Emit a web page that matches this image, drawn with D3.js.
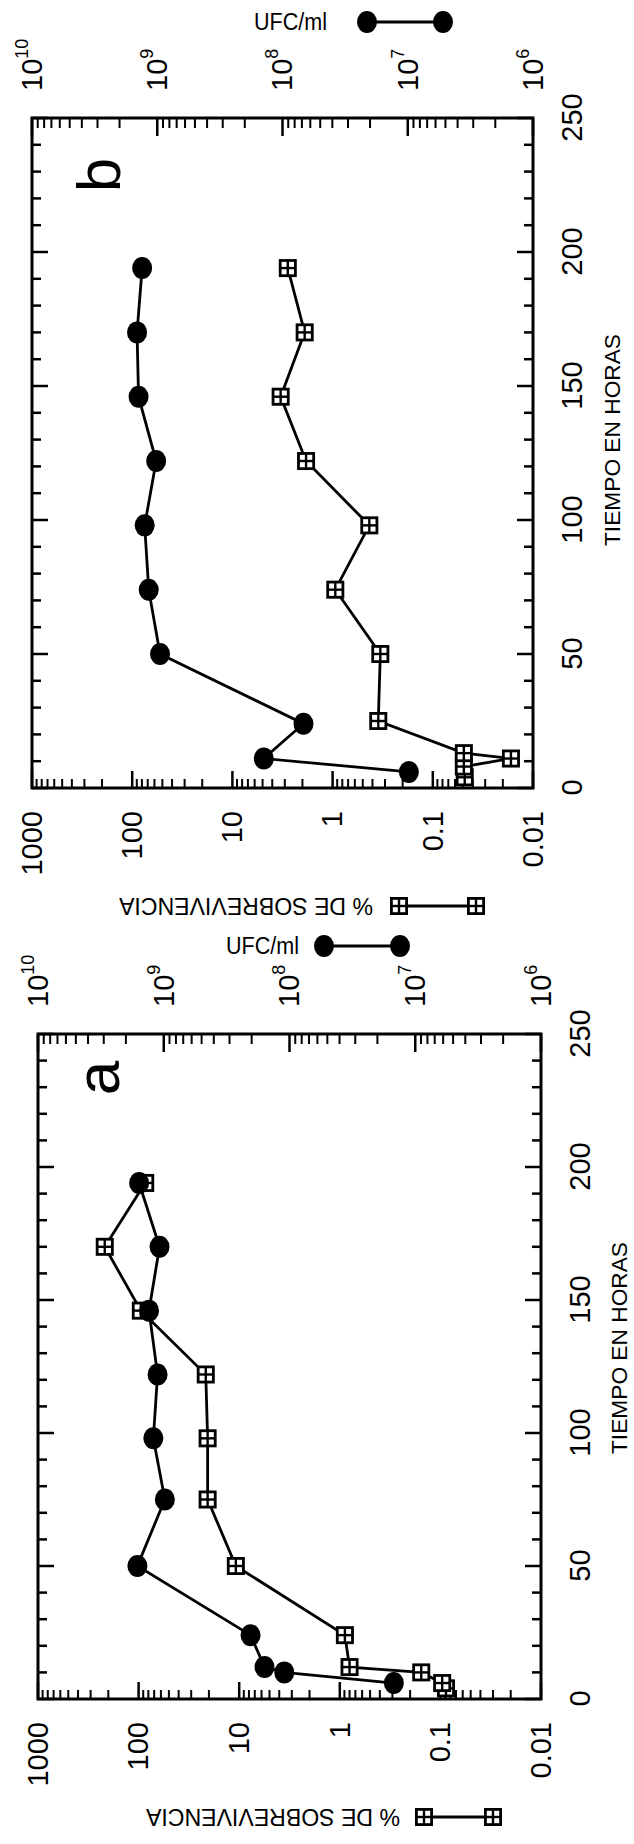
<!DOCTYPE html>
<html><head><meta charset="utf-8">
<script src="https://cdn.jsdelivr.net/npm/d3@7"></script>
<style>
body{margin:0;background:#fff}
svg{display:block}
text{font-family:"Liberation Sans",Arial,Helvetica,sans-serif;fill:#000}
</style>
</head><body>
<svg id="c" width="634" height="1844"></svg>
<script>
// ---- data ----
const timeTicks = [0, 50, 100, 150, 200, 250];
const pctTicks = [1000, 100, 10, 1, 0.1, 0.01];
const pctTickLabels = ["1000", "100", "10", "1", "0.1", "0.01"];
const ufcExponents = [10, 9, 8, 7, 6];

// panel b
const bTimeUFC = [6, 11, 24, 50, 74, 98, 122, 146, 170, 194];
const bUFC = [9.8e6, 1.41e8, 6.8e7, 9.5e8, 1.17e9, 1.26e9, 1.02e9, 1.41e9, 1.45e9, 1.32e9];
const bTimePct = [4, 8, 11, 13, 25, 50, 74, 98, 122, 146, 170, 194];
const bPct = [0.048, 0.049, 0.0166, 0.049, 0.35, 0.334, 0.94, 0.43, 1.84, 3.3, 1.9, 2.8];

// panel a
const aTimeUFC = [6, 10, 12, 24, 50, 75, 98, 122, 146, 170, 194];
const aUFC = [1.48e7, 1.1e8, 1.58e8, 2.04e8, 1.62e9, 9.8e8, 1.21e9, 1.12e9, 1.31e9, 1.08e9, 1.57e9];
const aTimePct = [4, 6, 10, 12, 24, 50, 75, 98, 122, 146, 170, 194];
const aPct = [0.088, 0.096, 0.155, 0.80, 0.89, 10.8, 20.6, 20.6, 21.5, 95, 217, 86];

const titleX = "TIEMPO EN HORAS";
const titlePct = "% DE SOBREVIVENCIA";
const titleUFC = "UFC/ml";

// ---- layout ----
const svg = d3.select("#c");
const panels = [
  {letter: "b", X0: 32, X1: 533, Y0: 118, Y1: 788,
   tU: bTimeUFC, vU: bUFC, tP: bTimePct, vP: bPct,
   letterBase: 120, letterY: 175, titleBase: 620, titleMid: 440,
   ufcLeg: {y: 22, textR: 327, c1: 367, c2: 443},
   pctLeg: {y: 906, textR: 373, s1: 399, s2: 476}},
  {letter: "a", X0: 38, X1: 541, Y0: 1034, Y1: 1699,
   tU: aTimeUFC, vU: aUFC, tP: aTimePct, vP: aPct,
   letterBase: 119, letterY: 1078, titleBase: 627, titleMid: 1348,
   ufcLeg: {y: 946, textR: 299, c1: 324, c2: 400},
   pctLeg: {y: 1817, textR: 400, s1: 424, s2: 493}}
];

function squareMarker(sel, cx, cy) {
  const s = 18, b = 2.8, w = 5, gap = 2.4;
  const g = sel.append("g").attr("transform", `translate(${cx - s/2},${cy - s/2})`);
  g.append("rect").attr("width", s).attr("height", s).attr("fill", "#000");
  [[b, b], [b + w + gap, b], [b, b + w + gap], [b + w + gap, b + w + gap]].forEach(([x, y]) =>
    g.append("rect").attr("x", x).attr("y", y).attr("width", w).attr("height", w).attr("fill", "#fff"));
}

panels.forEach(p => {
  const W = p.Y1 - p.Y0, H = p.X1 - p.X0;
  const g = svg.append("g").attr("transform", `translate(${p.X0},${p.Y1}) rotate(-90)`);
  const x = d3.scaleLinear().domain([0, 250]).range([0, W]);
  const yP = d3.scaleLog().domain([1000, 0.01]).range([0, H]);
  const yU = d3.scaleLog().domain([1e10, 1e6]).range([0, H]);

  // time ticks (both long edges, inward)
  d3.range(0, 251, 10).forEach(t => {
    const len = t % 50 === 0 ? 16 : 9;
    g.append("line").attr("x1", x(t)).attr("x2", x(t)).attr("y1", 0).attr("y2", len)
      .attr("stroke", "#000").attr("stroke-width", 2.5);
    g.append("line").attr("x1", x(t)).attr("x2", x(t)).attr("y1", H).attr("y2", H - len)
      .attr("stroke", "#000").attr("stroke-width", 2.5);
  });
  // % log ticks (page bottom edge)
  const pctMinor = [];
  for (let e = -2; e < 3; e++) for (let k = 2; k < 10; k++) pctMinor.push(k * Math.pow(10, e));
  pctMinor.forEach(v => g.append("line").attr("x1", 0).attr("x2", 9).attr("y1", yP(v)).attr("y2", yP(v))
    .attr("stroke", "#000").attr("stroke-width", 2));
  pctTicks.forEach(v => g.append("line").attr("x1", 0).attr("x2", 17).attr("y1", yP(v)).attr("y2", yP(v))
    .attr("stroke", "#000").attr("stroke-width", 2.5));
  // UFC log ticks (page top edge)
  const ufcMinor = [];
  for (let e = 6; e < 10; e++) for (let k = 2; k < 10; k++) ufcMinor.push(k * Math.pow(10, e));
  ufcMinor.forEach(v => g.append("line").attr("x1", W).attr("x2", W - 10).attr("y1", yU(v)).attr("y2", yU(v))
    .attr("stroke", "#000").attr("stroke-width", 2));
  ufcExponents.forEach(e => g.append("line").attr("x1", W).attr("x2", W - 18).attr("y1", yU(Math.pow(10, e))).attr("y2", yU(Math.pow(10, e)))
    .attr("stroke", "#000").attr("stroke-width", 2.5));

  // frame
  g.append("rect").attr("x", 0).attr("y", 0).attr("width", W).attr("height", H)
    .attr("fill", "none").attr("stroke", "#000").attr("stroke-width", 3);

  // axes labels
  const ax = g.append("g").attr("transform", `translate(0,${H})`)
    .call(d3.axisBottom(x).tickValues(timeTicks).tickSize(0).tickPadding(28));
  ax.select(".domain").remove();
  ax.attr("font-size", 29);

  const ap = g.append("g")
    .call(d3.axisLeft(yP).tickValues(pctTicks).tickFormat((d, i) => pctTickLabels[i]).tickSize(0).tickPadding(23));
  ap.select(".domain").remove();
  ap.attr("font-size", 29);

  const au = g.append("g").attr("transform", `translate(${W},0)`)
    .call(d3.axisRight(yU).tickValues(ufcExponents.map(e => Math.pow(10, e))).tickSize(0).tickPadding(27));
  au.select(".domain").remove();
  au.attr("font-size", 29);
  au.selectAll(".tick text").each(function(d) {
    const t = d3.select(this);
    const e = Math.round(Math.log10(d));
    t.text("10");
    t.append("tspan").attr("dy", -14).attr("font-size", 18).text(e);
  });

  // series lines
  const ptsP = p.tP.map((t, i) => [t, p.vP[i]]);
  const ptsU = p.tU.map((t, i) => [t, p.vU[i]]);
  g.append("path").datum(ptsP).attr("fill", "none").attr("stroke", "#000").attr("stroke-width", 2.8)
    .attr("d", d3.line().x(d => x(d[0])).y(d => yP(d[1])));
  g.append("path").datum(ptsU).attr("fill", "none").attr("stroke", "#000").attr("stroke-width", 2.8)
    .attr("d", d3.line().x(d => x(d[0])).y(d => yU(d[1])));
  ptsP.forEach(d => squareMarker(g, x(d[0]), yP(d[1])));
  g.selectAll(null).data(ptsU).join("ellipse")
    .attr("cx", d => x(d[0])).attr("cy", d => yU(d[1])).attr("rx", 11).attr("ry", 10).attr("fill", "#000");

  // x title
  svg.append("text").attr("transform", `translate(${p.titleBase},${p.titleMid}) rotate(-90)`)
    .attr("text-anchor", "middle").attr("font-size", 22)
    .attr("textLength", 212).attr("lengthAdjust", "spacingAndGlyphs").text(titleX);

  // panel letter
  svg.append("text").attr("transform", `translate(${p.letterBase},${p.letterY}) rotate(-90)`)
    .attr("text-anchor", "middle").attr("font-size", 62).text(p.letter);

  // UFC legend
  const ul = p.ufcLeg;
  svg.append("text").attr("x", ul.textR).attr("y", ul.y).attr("dy", "0.35em").attr("text-anchor", "end")
    .attr("font-size", 23).attr("textLength", 73).attr("lengthAdjust", "spacingAndGlyphs").text(titleUFC);
  svg.append("line").attr("x1", ul.c1).attr("x2", ul.c2).attr("y1", ul.y).attr("y2", ul.y)
    .attr("stroke", "#000").attr("stroke-width", 2.8);
  [ul.c1, ul.c2].forEach(cx => svg.append("ellipse").attr("cx", cx).attr("cy", ul.y).attr("rx", 10).attr("ry", 11).attr("fill", "#000"));

  // % legend (upside down)
  const pl = p.pctLeg;
  svg.append("text").attr("transform", `translate(${pl.textR},${pl.y}) rotate(180)`)
    .attr("dy", "0.35em").attr("text-anchor", "start")
    .attr("font-size", 23).attr("textLength", 254).attr("lengthAdjust", "spacingAndGlyphs").text(titlePct);
  svg.append("line").attr("x1", pl.s1).attr("x2", pl.s2).attr("y1", pl.y).attr("y2", pl.y)
    .attr("stroke", "#000").attr("stroke-width", 2.8);
  [pl.s1, pl.s2].forEach(cx => squareMarker(svg, cx, pl.y));
});
</script>
</body></html>
